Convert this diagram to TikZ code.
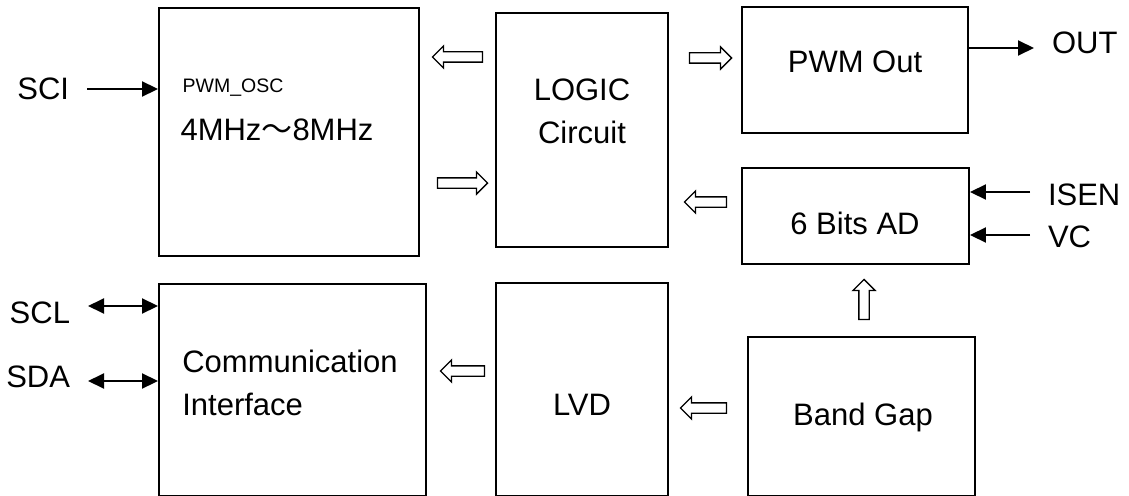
\documentclass[tikz,border=0pt]{standalone}
\usepackage{fontspec}
\setmainfont{Liberation Sans}
\newfontfamily\cjk{Noto Sans CJK SC}
\usetikzlibrary{
  arrows.meta,
  calc,
  shapes.arrows
}
\newcommand\lblfont{\fontsize{31}{43}\selectfont}
\newcommand\tinyfont{\fontsize{19.5}{23}\selectfont}
\tikzset{
  blk/.style={
    draw=black,
    line width=1.9pt,
    inner sep=0pt
  },
  hollow/.style={
    single arrow,
    draw=black,
    line width=1.3pt,
    fill=white,
    minimum height=46pt,
    inner sep=4.5pt,
    single arrow head extend=6pt
  },
  sig/.style={
    -{Triangle[length=16pt,width=15pt]},
    line width=1.9pt
  },
  bisig/.style={
    {Triangle[length=16pt,width=15pt]}-{Triangle[length=16pt,width=15pt]},
    line width=1.9pt
  },
  port/.style={
    inner sep=0pt,
    outer xsep=18pt,
    font=\lblfont
  }
}
\begin{document}
\begin{tikzpicture}[x=1pt,y=-1pt]
\useasboundingbox (0,0) rectangle (1129,495);
% blocks
\node[blk, minimum width=260pt, minimum height=248pt] (osc) at (289,132) {};
\node[blk, minimum width=172pt, minimum height=234pt] (logic) at (582,130) {};
\node[blk, minimum width=226pt, minimum height=126pt] (pwm) at (855,70) {};
\node[blk, minimum width=227pt, minimum height=96pt] (adc) at (855.5,216) {};
\node[blk, minimum width=267pt, minimum height=211.5pt] (comm) at (292.5,389.75) {};
\node[blk, minimum width=172pt, minimum height=212.5pt] (lvd) at (582,389.25) {};
\node[blk, minimum width=227pt, minimum height=158.5pt] (bgap) at (861.5,416.25) {};
% block texts
\node[font=\tinyfont] (oscname) at (233,88) {PWM\_OSC};
\node[font=\lblfont] (oscfreq) at (277,130) {4MHz{\cjk ～}8MHz};
\node[font=\lblfont, align=center] (logictxt) at (582,111) {LOGIC\\Circuit};
\node[font=\lblfont] (pwmtxt) at (855,62) {PWM Out};
\node[font=\lblfont] (adctxt) at (855,223) {6 Bits AD};
\node[font=\lblfont, align=left] (commtxt) at (290,383) {Communication\\Interface};
\node[font=\lblfont] (lvdtxt) at (582,405) {LVD};
\node[font=\lblfont] (bgaptxt) at (863,417) {Band Gap};
% pins
\node[port, anchor=east] (sci) at (87,89) {SCI};
\node[port, anchor=east] (scl) at (88,313) {SCL};
\node[port, anchor=east] (sda) at (88,377) {SDA};
\node[port, anchor=west] (out) at (1034,43) {OUT};
\node[port, anchor=west] (isen) at (1030,195) {ISEN};
\node[port, anchor=west] (vc) at (1030,237) {VC};
\draw[sig] (sci) -- (osc.west |- sci);
\draw[bisig] (scl.east |- 0,306) -- (comm.west |- 0,306);
\draw[bisig] (sda.east |- 0,381) -- (comm.west |- 0,381);
\draw[sig] (pwm.east |- 0,48) -- (out.west |- 0,48);
\draw[sig] (isen.west |- 0,192) -- (adc.east |- 0,192);
\draw[sig] (vc.west |- 0,235) -- (adc.east |- 0,235);
% internal buses
\node[hollow, minimum height=50pt, shape border rotate=180] (bus1) at (460,57) {};
\node[hollow, minimum height=50pt] (bus2) at (460,183) {};
\node[hollow, minimum height=42pt] (bus3) at (708,58) {};
\node[hollow, minimum height=42pt, shape border rotate=180] (bus4) at (708,202) {};
\node[hollow, minimum height=44pt, shape border rotate=180] (bus5) at (465,371) {};
\node[hollow, shape border rotate=180] (bus6) at (706,408) {};
\node[hollow, minimum height=40pt, shape border rotate=90] (bus7) at (864,302) {};
\end{tikzpicture}
\end{document}
